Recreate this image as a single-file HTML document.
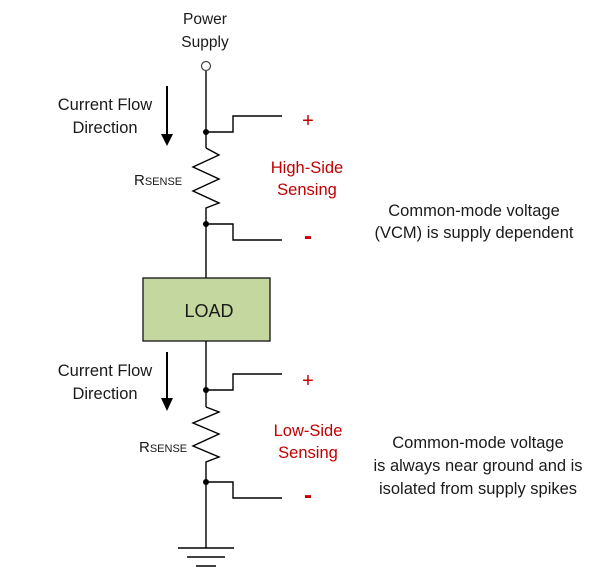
<!DOCTYPE html>
<html><head><meta charset="utf-8"><style>
body{margin:0;background:#fff;}
svg{display:block;}
text{font-family:"Liberation Sans",sans-serif;font-size:16.5px;fill:#1a1a1a;}
.r{fill:#c00000;}
</style></head><body>
<svg width="602" height="578" viewBox="0 0 602 578">
<g stroke="#000" stroke-width="1.4" fill="none">
<line x1="206" y1="70" x2="206" y2="148"/>
<polyline points="206,148 219,155 193,167 219,179 193,191 219,203 206,208 206,278"/>
<polyline points="206,132 233,132 233,116 282,116"/>
<polyline points="206,224 233,224 233,240 282,240"/>
<rect x="143" y="278" width="127" height="63" fill="#c4d79f" stroke="#222"/>
<line x1="206" y1="341" x2="206" y2="407"/>
<polyline points="206,407 219,412 193,423 219,434 193,446 219,457 206,462 206,548"/>
<polyline points="206,390 233,390 233,374 282,374"/>
<polyline points="206,482 233,482 233,498 282,498"/>
<line x1="178" y1="548" x2="234" y2="548"/>
<line x1="187" y1="557" x2="225" y2="557"/>
<line x1="196" y1="566" x2="216" y2="566"/>
<line x1="167" y1="86" x2="167" y2="136" stroke-width="2"/>
<line x1="167" y1="352" x2="167" y2="400" stroke-width="2"/>
</g>
<polygon points="161,134 173,134 167,146" fill="#000"/>
<polygon points="161,398 173,398 167,411" fill="#000"/>
<circle cx="206" cy="66" r="4.5" fill="#fff" stroke="#444" stroke-width="1.2"/>
<circle cx="206" cy="132" r="3" fill="#000"/>
<circle cx="206" cy="224" r="3" fill="#000"/>
<circle cx="206" cy="390" r="3" fill="#000"/>
<circle cx="206" cy="482" r="3" fill="#000"/>
<text x="205" y="24" text-anchor="middle" style="font-size:15.5px">Power</text>
<text x="205" y="47" text-anchor="middle" style="font-size:15.5px">Supply</text>
<text x="105" y="110" text-anchor="middle">Current Flow</text>
<text x="105" y="133" text-anchor="middle">Direction</text>
<text x="105" y="376" text-anchor="middle">Current Flow</text>
<text x="105" y="399" text-anchor="middle">Direction</text>
<text x="134" y="185" style="font-size:15px">R<tspan font-size="11">SENSE</tspan></text>
<text x="139" y="452" style="font-size:15px">R<tspan font-size="11">SENSE</tspan></text>
<text x="308" y="127" text-anchor="middle" class="r" style="font-size:20px">+</text>
<text x="308" y="244" text-anchor="middle" class="r" style="font-size:24px;font-weight:bold">-</text>
<text x="308" y="387" text-anchor="middle" class="r" style="font-size:20px">+</text>
<text x="308" y="503" text-anchor="middle" class="r" style="font-size:24px;font-weight:bold">-</text>
<text x="307" y="173" text-anchor="middle" class="r">High-Side</text>
<text x="307" y="195" text-anchor="middle" class="r">Sensing</text>
<text x="308" y="436" text-anchor="middle" class="r">Low-Side</text>
<text x="308" y="458" text-anchor="middle" class="r">Sensing</text>
<text x="474" y="216" text-anchor="middle">Common-mode voltage</text>
<text x="474" y="238" text-anchor="middle">(VCM) is supply dependent</text>
<text x="478" y="448" text-anchor="middle">Common-mode voltage</text>
<text x="478" y="471" text-anchor="middle">is always near ground and is</text>
<text x="478" y="494" text-anchor="middle">isolated from supply spikes</text>
<text x="209" y="317" text-anchor="middle" style="font-size:18px">LOAD</text>
</svg>
</body></html>
